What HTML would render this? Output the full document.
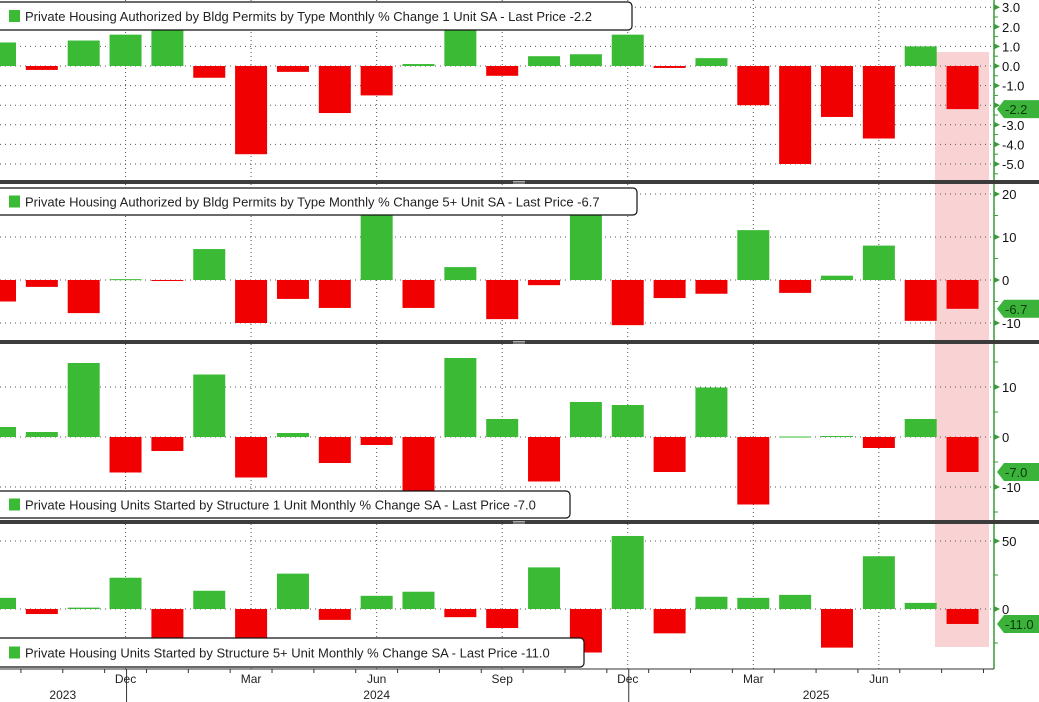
<!DOCTYPE html>
<html><head><meta charset="utf-8"><style>
html,body{margin:0;padding:0;background:#fff;}
svg{display:block;font-family:"Liberation Sans",sans-serif;}
</style></head><body>
<svg id="c" width="1039" height="702" viewBox="0 0 1039 702"></svg>
<script>
const months = ["Sep23","Oct23","Nov23","Dec23","Jan24","Feb24","Mar24","Apr24","May24","Jun24","Jul24","Aug24","Sep24","Oct24","Nov24","Dec24","Jan25","Feb25","Mar25","Apr25","May25","Jun25","Jul25","Aug25"];
const permits1 = [1.2,-0.2,1.3,1.6,1.9,-0.6,-4.5,-0.3,-2.4,-1.5,0.1,1.9,-0.5,0.5,0.6,1.6,-0.1,0.4,-2.0,-5.0,-2.6,-3.7,1.0,-2.2];
const permits5 = [-5,-1.6,-7.7,0.2,-0.1,7.2,-10,-4.4,-6.5,15.2,-6.5,3.0,-9.1,-1.2,15.2,-10.5,-4.2,-3.2,11.6,-3.0,1.0,8.0,-9.5,-6.7];
const starts1 = [2,1,14.8,-7.1,-2.8,12.5,-8.1,0.8,-5.2,-1.6,-12,15.8,3.6,-8.9,7,6.4,-7,9.9,-13.5,0.1,0.2,-2.2,3.6,-7.0];
const starts5 = [8.2,-3.7,1,23,-25,13.4,-25,26,-8,9.7,12.7,-6,-14,30.6,-32,53.7,-17.9,9,8.2,10.4,-28.4,38.8,4.5,-11.0];
const monthTicks = [{i:3,t:"Dec"},{i:6,t:"Mar"},{i:9,t:"Jun"},{i:12,t:"Sep"},{i:15,t:"Dec"},{i:18,t:"Mar"},{i:21,t:"Jun"}];
const yearLabels = [{i:1.5,t:"2023"},{i:9,t:"2024"},{i:19.5,t:"2025"}];

const svg = document.getElementById('c');
const NS = "http://www.w3.org/2000/svg";
function mk(tag, attrs, parent){const e=document.createElementNS(NS,tag);for(const k in attrs)e.setAttribute(k,attrs[k]);(parent||svg).appendChild(e);return e;}
const x0 = 0, dx = 41.85, bw = 32;
function xc(i){return x0 + i*dx;}
const axisX = 994;

const panels = [
 {data:permits1,top:0,bot:180,zeroY:66,ppu:19.6,ticks:[3,2,1,0,-1,-2,-3,-4,-5],minor:0.5,fmt:v=>v.toFixed(1),last:"-2.2",
  legend:{y:2,h:28,w:632,t:"Private Housing Authorized by Bldg Permits by Type Monthly % Change 1 Unit SA - Last Price -2.2"},name:"permits-1-unit"},
 {data:permits5,top:184,bot:340,zeroY:280,ppu:4.3,ticks:[20,10,0,-10],minor:5,fmt:v=>String(v),last:"-6.7",
  legend:{y:188,h:27,w:637,t:"Private Housing Authorized by Bldg Permits by Type Monthly % Change 5+ Unit SA - Last Price -6.7"},name:"permits-5-unit"},
 {data:starts1,top:344,bot:520,zeroY:437,ppu:5.0,ticks:[10,0,-10],minor:5,fmt:v=>String(v),last:"-7.0",
  legend:{y:491,h:27,w:570,t:"Private Housing Units Started by Structure 1 Unit Monthly % Change SA - Last Price -7.0"},name:"starts-1-unit"},
 {data:starts5,top:524,bot:669,zeroY:609,ppu:1.36,ticks:[50,0],minor:25,fmt:v=>String(v),last:"-11.0",
  legend:{y:638,h:29,w:584,t:"Private Housing Units Started by Structure 5+ Unit Monthly % Change SA - Last Price -11.0"},name:"starts-5-unit"}
];

// highlight
const hl = mk('rect',{x:935,y:52,width:54,height:595,fill:'#f9d3d3'});



panels.forEach((p,pi)=>{
  const g = mk('g',{});
  
  
  const yv = v => p.zeroY - v*p.ppu;
  // vertical grid
  monthTicks.forEach(m=>{
    const l=mk('line',{x1:xc(m.i),x2:xc(m.i),y1:p.top,y2:p.bot,stroke:'#555','stroke-width':1,'stroke-dasharray':'1,3'},g);
    
    
  });
  // horizontal grid + ticks
  p.ticks.forEach(t=>{
    const y=yv(t);
    const l=mk('line',{x1:0,x2:axisX,y1:y,y2:y,stroke:'#555','stroke-width':1,'stroke-dasharray':'1,4'},g);
    
    
    mk('path',{d:`M${axisX} ${y-3}L${axisX+6} ${y}L${axisX} ${y+3}Z`,fill:'#3a9a3a'},g);
    const tx=mk('text',{x:1002,y:y+5,'font-size':13,fill:'#111'},g);
    tx.textContent=p.fmt(t);
    
    
  });
  // minor ticks
  for(let v=-100;v<=100;v+=p.minor){const y=yv(v);if(y>p.top+2&&y<p.bot-2)mk('line',{x1:axisX,x2:axisX+4,y1:y,y2:y,stroke:'#3a9a3a'},g);}
  // bars
  p.data.forEach((v,i)=>{
    const y=yv(v), z=p.zeroY;
    const r=mk('rect',{x:xc(i)-bw/2,y:Math.min(y,z),width:bw,height:Math.max(1,Math.abs(y-z)),fill:v>=0?'#3bbb35':'#f00000'},g);
    
    
  });
  // axis line
  mk('line',{x1:axisX,x2:axisX,y1:p.top,y2:p.bot,stroke:'#3a9a3a','stroke-width':1.5},g);
  // last value tag
  const ly=yv(p.data[p.data.length-1]);
  const tag=mk('path',{d:`M997 ${ly}L1004 ${ly-9}L1039 ${ly-9}L1039 ${ly+9}L1004 ${ly+9}Z`,fill:'#3bb23a'},g);
  
  
  const tt=mk('text',{x:1005,y:ly+5,'font-size':13,fill:'#0a3a0a'},g);
  tt.textContent=p.last;
  // legend
  const L=p.legend;
  const lg=mk('g',{},g);
  
  
  mk('rect',{x:-4,y:L.y,width:L.w+4,height:L.h,rx:4,fill:'#fff',stroke:'#111','stroke-width':1.2},lg);
  mk('rect',{x:9,y:L.y+L.h/2-6,width:11,height:12,fill:'#3bbb35'},lg);
  const lt=mk('text',{x:25,y:L.y+L.h/2+5,'font-size':13,fill:'#222'},lg);
  lt.textContent=L.t;
  // separator
  if(pi<3){
    const s=mk('rect',{x:0,y:p.bot,width:1039,height:4,fill:'#3c3c3c'});
    
    
    mk('line',{x1:513,x2:525,y1:p.bot+1.5,y2:p.bot+1.5,stroke:'#aaa'});
    mk('line',{x1:513,x2:525,y1:p.bot+3,y2:p.bot+3,stroke:'#aaa'});
  }
});

// bottom axis
const xa=mk('g',{});


mk('line',{x1:0,x2:axisX,y1:669,y2:669,stroke:'#333'},xa);
months.forEach((m,i)=>{const x=xc(i)+dx/2;mk('line',{x1:x,x2:x,y1:669,y2:673,stroke:'#333'},xa);});
monthTicks.forEach(m=>{
  const t=mk('text',{x:xc(m.i),y:683,'font-size':12,fill:'#222','text-anchor':'middle'},xa);
  t.textContent=m.t;
  
  
});
[3,15].forEach(i=>mk('line',{x1:xc(i)+1,x2:xc(i)+1,y1:669,y2:702,stroke:'#333'},xa));
yearLabels.forEach(y=>{
  const t=mk('text',{x:xc(y.i),y:699,'font-size':12,fill:'#222','text-anchor':'middle'},xa);
  t.textContent=y.t;
  
  
});
</script>
</body></html>
